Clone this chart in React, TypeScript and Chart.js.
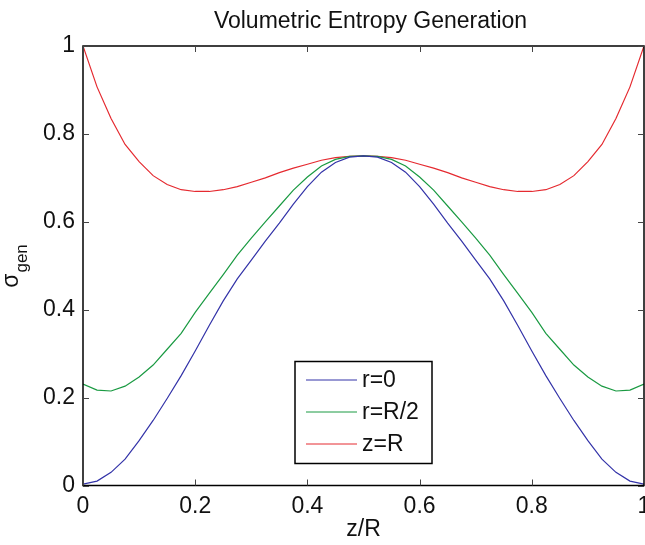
import React, { useEffect, useRef } from 'react';
import { Chart, registerables } from 'chart.js';

Chart.register(...registerables);

const FONT = '"Liberation Sans", Arial, Helvetica, sans-serif';

const titleText = 'Volumetric Entropy Generation';
const xLabel = 'z/R';
const yLabelMain = 'σ';
const yLabelSub = 'gen';
const seriesLabels = ['r=0', 'r=R/2', 'z=R'];
const seriesColors = ['#3333a8', '#1a9a42', '#e52a30'];

const zValues = [
  0, 0.025, 0.05, 0.075, 0.1, 0.125, 0.15, 0.175, 0.2, 0.225, 0.25, 0.275, 0.3, 0.325, 0.35, 0.375, 0.4, 0.425,
  0.45, 0.475, 0.5, 0.525, 0.55, 0.575, 0.6, 0.625, 0.65, 0.675, 0.7, 0.725, 0.75, 0.775, 0.8, 0.825, 0.85, 0.875,
  0.9, 0.925, 0.95, 0.975, 1,
];

const sigmaR0 = [
  0.003, 0.01, 0.03, 0.06, 0.102, 0.148, 0.198, 0.25, 0.306, 0.364, 0.42, 0.47, 0.513, 0.556, 0.597, 0.64, 0.68,
  0.713, 0.735, 0.747, 0.75, 0.747, 0.735, 0.713, 0.68, 0.64, 0.597, 0.556, 0.513, 0.47, 0.42, 0.364, 0.306, 0.25,
  0.198, 0.148, 0.102, 0.06, 0.03, 0.01, 0.003,
];

const sigmaRHalf = [
  0.231, 0.217, 0.215, 0.226, 0.247, 0.274, 0.31, 0.346, 0.394, 0.437, 0.48, 0.524, 0.563, 0.6, 0.636, 0.672, 0.702,
  0.727, 0.742, 0.749, 0.75, 0.749, 0.742, 0.727, 0.702, 0.672, 0.636, 0.6, 0.563, 0.524, 0.48, 0.437, 0.394, 0.346,
  0.31, 0.274, 0.247, 0.226, 0.215, 0.217, 0.231,
];

const sigmaZR = [
  1.0, 0.907, 0.835, 0.776, 0.737, 0.705, 0.685, 0.673, 0.669, 0.669, 0.673, 0.68, 0.69, 0.7, 0.712, 0.722, 0.731,
  0.74, 0.746, 0.749, 0.75, 0.749, 0.746, 0.74, 0.731, 0.722, 0.712, 0.7, 0.69, 0.68, 0.673, 0.669, 0.669, 0.673,
  0.685, 0.705, 0.737, 0.776, 0.835, 0.907, 1.0,
];

const seriesValues = [sigmaR0, sigmaRHalf, sigmaZR];

const fmtTick = (v: any) => String(Math.round(Number(v) * 10) / 10);

const decorPlugin = {
  id: 'decor',
  afterDraw(chart: any) {
    const { ctx, chartArea: a, scales } = chart;
    ctx.save();
    // axes box
    ctx.strokeStyle = '#000';
    ctx.lineWidth = 1.5;
    ctx.strokeRect(a.left, a.top, a.right - a.left, a.bottom - a.top);
    // inward ticks
    ctx.lineWidth = 1;
    ctx.strokeStyle = '#444';
    const tl = 6;
    scales.x.ticks.forEach((t: any) => {
      const px = Math.round(scales.x.getPixelForValue(t.value)) + 0.5;
      ctx.beginPath();
      ctx.moveTo(px, a.bottom);
      ctx.lineTo(px, a.bottom - tl);
      ctx.moveTo(px, a.top);
      ctx.lineTo(px, a.top + tl);
      ctx.stroke();
    });
    scales.y.ticks.forEach((t: any) => {
      const py = Math.round(scales.y.getPixelForValue(t.value)) + 0.5;
      ctx.beginPath();
      ctx.moveTo(a.left, py);
      ctx.lineTo(a.left + tl, py);
      ctx.moveTo(a.right, py);
      ctx.lineTo(a.right - tl, py);
      ctx.stroke();
    });

    ctx.fillStyle = '#111';
    // title
    ctx.font = `23px ${FONT}`;
    ctx.textAlign = 'center';
    ctx.textBaseline = 'alphabetic';
    ctx.fillText(titleText, (a.left + a.right) / 2 + 7, 28);
    // x label
    ctx.fillText(xLabel, (a.left + a.right) / 2, 536);
    // y label with subscript
    ctx.save();
    ctx.translate(18, (a.top + a.bottom) / 2 + 22);
    ctx.rotate(-Math.PI / 2);
    ctx.textAlign = 'left';
    ctx.font = `23px ${FONT}`;
    ctx.fillText(yLabelMain, 0, 0);
    const w = ctx.measureText(yLabelMain).width;
    ctx.font = `17px ${FONT}`;
    ctx.fillText(yLabelSub, w + 1, 9);
    ctx.restore();

    // legend
    const lx = a.left + 212;
    const ly = a.top + 315.5;
    const lw = 137;
    const lh = 102;
    ctx.fillStyle = '#fff';
    ctx.fillRect(lx, ly, lw, lh);
    ctx.strokeStyle = '#000';
    ctx.lineWidth = 1.5;
    ctx.strokeRect(lx, ly, lw, lh);
    chart.data.datasets.forEach((ds: any, i: number) => {
      const ry = ly + 18.5 + i * 32;
      ctx.strokeStyle = ds.borderColor;
      ctx.lineWidth = 1;
      ctx.beginPath();
      ctx.moveTo(lx + 11, ry);
      ctx.lineTo(lx + 62, ry);
      ctx.stroke();
      ctx.fillStyle = '#111';
      ctx.font = `23px ${FONT}`;
      ctx.textAlign = 'left';
      ctx.textBaseline = 'middle';
      ctx.fillText(ds.label, lx + 67, ry + 1);
    });
    ctx.restore();
  },
};

export default function App() {
  const ref = useRef<HTMLCanvasElement | null>(null);

  useEffect(() => {
    if (!ref.current) return;
    const chart = new Chart(ref.current, {
      type: 'line',
      data: {
        datasets: seriesLabels.map((label, i) => ({
          label,
          data: zValues.map((z, j) => ({ x: z, y: seriesValues[i][j] })),
          borderColor: seriesColors[i],
          backgroundColor: seriesColors[i],
          borderWidth: 1.2,
          pointRadius: 0,
          tension: 0,
          fill: false,
        })),
      },
      options: {
        responsive: false,
        animation: false,
        devicePixelRatio: 1,
        layout: { autoPadding: false, padding: { top: 46, left: 0, right: 1, bottom: 0 } },
        plugins: {
          legend: { display: false },
          title: { display: false },
          tooltip: { enabled: false },
        },
        scales: {
          x: {
            type: 'linear',
            min: 0,
            max: 1,
            grid: { display: false, drawTicks: false },
            border: { display: false },
            ticks: {
              stepSize: 0.2,
              padding: 7,
              color: '#111',
              font: { family: FONT, size: 23 },
              maxRotation: 0,
              autoSkip: false,
              callback: fmtTick,
            },
            afterFit: (s: any) => {
              s.height = 59.5;
              s.paddingLeft = 0;
              s.paddingRight = 0;
            },
          },
          y: {
            type: 'linear',
            min: 0,
            max: 1,
            grid: { display: false, drawTicks: false },
            border: { display: false },
            ticks: {
              stepSize: 0.2,
              padding: 8,
              color: '#111',
              font: { family: FONT, size: 23 },
              callback: fmtTick,
            },
            afterFit: (s: any) => {
              s.width = 83;
              s.paddingTop = 0;
              s.paddingBottom = 0;
            },
          },
        },
      },
      plugins: [decorPlugin],
    });
    return () => chart.destroy();
  }, []);

  return (
    <div style={{ position: 'fixed', left: 0, top: 0, width: 645, height: 545, background: '#fff' }}>
      <canvas ref={ref} width={645} height={545} style={{ width: 645, height: 545, display: 'block' }} />
    </div>
  );
}
